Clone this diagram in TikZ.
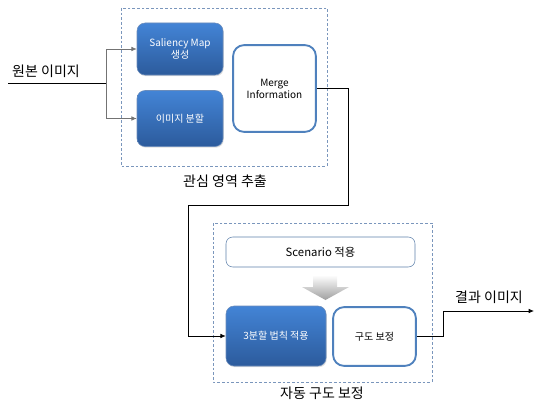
\documentclass[tikz,border=0pt]{standalone}
\usepackage{fontspec}
\setmainfont{Noto Sans CJK KR}
\usepackage{tikz}
\usetikzlibrary{calc,arrows.meta,positioning,shadows}
\definecolor{bx-top}{HTML}{4384D6}
\definecolor{bx-bot}{HTML}{2C5B9C}
\definecolor{bx-line}{HTML}{4F81BD}
\definecolor{rg-line}{HTML}{7A96BC}

\begin{document}
\begin{tikzpicture}[x=0.75pt, y=-0.75pt, thick,
    bluebox/.style={rounded corners=6pt, top color=bx-top, bottom color=bx-bot, draw=bx-bot!70,
        thin, text=white, font=\fontsize{7.5}{9}\selectfont, align=center,
        drop shadow={opacity=0.25, shadow xshift=0.6pt, shadow yshift=-0.9pt}},
    whitebox/.style={rounded corners=8pt, fill=white, draw=bx-line, line width=1.4pt,
        font=\fontsize{7.5}{9}\selectfont, align=center},
    region/.style={draw=rg-line, dashed, thin, dash pattern=on 2pt off 1.5pt},
    label/.style={font=\fontsize{10.5}{12}\selectfont},
    link/.style={line width=0.6pt, -{Latex[length=4pt,width=3.5pt]}}]
    \useasboundingbox (0,0) rectangle (534,403);
    \draw[region] (121,8) rectangle (327,166);
    \draw[region] (213,223) rectangle (432,382);
    \node[bluebox, minimum width=64.5pt, minimum height=39pt] (sal) at (180,49) {Saliency Map\\생성};
    \node[bluebox, minimum width=64.5pt, minimum height=42pt] (seg) at (180,118.5) {이미지 분할};
    \node[whitebox, minimum width=62pt, minimum height=65pt] (merge) at (274.5,88.5) {Merge\\Information};
    \node[whitebox, thin, rounded corners=5pt, draw=bx-line!70!gray, minimum width=141.75pt, minimum height=22.5pt,
        font=\fontsize{8.5}{10}\selectfont] (scen) at (320.5,252) {Scenario 적용};
    \node[bluebox, minimum width=75pt, minimum height=45pt] (rule) at (276,336) {3분할 법칙 적용};
    \node[whitebox, minimum width=62pt, minimum height=44pt] (comp) at (374.5,336.5) {구도 보정};
    \shade[top color=white, bottom color=gray!75, draw=none]
        (313,275) -- (337,275) -- (337,287) -- (349,287) -- (325.5,300) -- (302,287) -- (313,287) -- cycle;
    \node[label] (src) at (46,71) {원본 이미지};
    \node[label] (roi) at (225,181) {관심 영역 추출};
    \node[label] (auto) at (322,393) {자동 구도 보정};
    \node[label] (res) at (489,297) {결과 이미지};
    \coordinate (in) at (8,83);
    \coordinate (split) at (106,83);
    \coordinate (out) at (534,311);
    \draw[line width=0.6pt] (in) -- (split);
    \draw[link, gray!90!black] (split) |- (sal.west);
    \draw[link, gray!90!black] (split) |- (seg.west);
    \draw[link] (merge.east) -- (348,88.5) |- (188,205) |- (rule.west);
    \draw[link] (comp.east) -- (443,336.5) |- (out);
\end{tikzpicture}
\end{document}
